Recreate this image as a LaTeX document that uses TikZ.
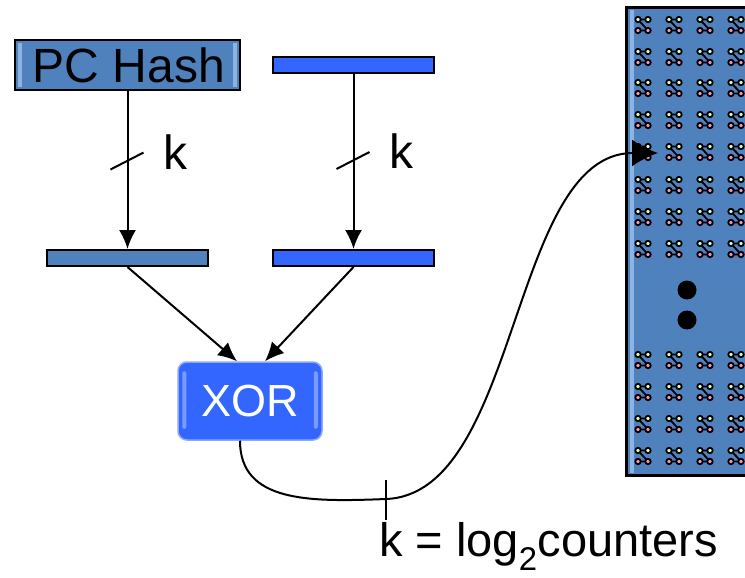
\documentclass[tikz,border=0pt]{standalone}
\usepackage{fontspec}
\setmainfont{Liberation Sans}
\usetikzlibrary{arrows.meta,positioning}

\definecolor{hashblue}{HTML}{4F81BD}
\definecolor{hashlight}{HTML}{8DB3E2}
\definecolor{barblue}{HTML}{3366FF}
\definecolor{xoredge}{HTML}{8AA8FF}
\definecolor{greenbit}{HTML}{CCFFCC}
\definecolor{pinkbit}{HTML}{FF8FC0}

\tikzset{
  bigtext/.style={font=\fontsize{48}{52}\selectfont},
  hashbox/.style={draw, line width=2pt, fill=hashblue, minimum width=225pt,
    minimum height=50pt, inner sep=0pt, bigtext},
  bar/.style={draw, line width=2pt, minimum width=161pt, minimum height=16pt, inner sep=0pt},
  xorbox/.style={draw=xoredge, line width=1.5pt, fill=barblue, rounded corners=9pt,
    minimum width=144pt, minimum height=78pt, text=white, font=\fontsize{45}{49}\selectfont},
  wire/.style={line width=2pt},
  bit/.style={line width=1.8pt},
}

\begin{document}
\begin{tikzpicture}[x=1pt,y=-1pt,>={Latex[length=19pt,width=17pt]}]
   \useasboundingbox (0,0) rectangle (745,578);
   %index sources
   \node[hashbox] (hash) at (127.5,65) {};
   \fill[hashlight] (18,43) rectangle (22,87);
   \fill[hashlight] (233,43) rectangle (237,87);
   \node[hashbox,draw=none,fill=none] (hashtext) at (129,65) {PC Hash};
   \node[bar,fill=barblue] (hist) at (353.5,65.5) {};
   \node[bar,fill=hashblue] (lbar) at (127.5,258) {};
   \node[bar,fill=barblue] (rbar) at (353.5,258) {};
   %xor
   \node[xorbox] (xor) at (250,401) {};
   \fill[white,opacity=.35,rounded corners=2pt] ([shift={(5,10)}]xor.north west) rectangle ([shift={(9,-12)}]xor.south west);
   \fill[white,opacity=.35,rounded corners=2pt] ([shift={(-9,10)}]xor.north east) rectangle ([shift={(-5,-12)}]xor.south east);
   \node[xorbox,fill=none,draw=none] (xortext) at (xor) {XOR};
   %counter table
   \begin{scope}
     \clip (0,0) rectangle (745,578);
     \draw[line width=3pt,fill=hashblue] (626,8) rectangle (770,475);
     \fill[hashlight] (629.5,10) rectangle (633.5,473);
     \foreach \y in {25,57,88,120,152,185,217,249,360,392,424,456}
       \foreach \x in {643,674,705,736} {
         \draw[bit] (\x-5,\y-5.5) -- (\x+5,\y-5.5) (\x-5,\y-5.5) -- (\x+5,\y+5.5)
           (\x-5,\y+5.5) -- (\x+5,\y+5.5);
         \filldraw[bit,fill=greenbit] (\x-5,\y-5.5) circle (2.7pt) (\x+5,\y-5.5) circle (2.7pt);
         \filldraw[bit,fill=pinkbit] (\x-5,\y+5.5) circle (2.7pt) (\x+5,\y+5.5) circle (2.7pt);
       }
     \fill (687,290) circle (9.5pt);
     \fill (687,320) circle (9.5pt);
   \end{scope}
   \coordinate (slot) at (658,153);
   %k bit wires
   \draw[->,wire] (hash) -- coordinate[pos=0.44] (cutl) (lbar);
   \draw[->,wire] (hist) -- coordinate[pos=0.49] (cutr) (rbar);
   \draw[wire] ([shift={(-17,9)}]cutl) -- ([shift={(16,-8)}]cutl);
   \draw[wire] ([shift={(-17,9)}]cutr) -- ([shift={(16,-8)}]cutr);
   \node[bigtext,anchor=base west,inner sep=0pt] (kl) at ([shift={(36,9)}]cutl) {k};
   \node[bigtext,anchor=base west,inner sep=0pt] (kr) at ([shift={(36,8)}]cutr) {k};
   \draw[->,wire] (lbar.south) -- ([xshift=-13pt]xor.north);
   \draw[->,wire] (rbar.south) -- ([xshift=15pt]xor.north);
   %index to table
   \coordinate (cutb) at (386,499);
   \draw[-{Latex[length=26pt,width=27pt]},wire] ([xshift=-10pt]xor.south)
     .. controls +(0,62) and (310,502) .. (cutb)
     .. controls (520,494) and (510,153) .. (slot);
   \draw[wire] ([yshift=19pt]cutb) -- ([yshift=-21pt]cutb);
   \node[font=\fontsize{47}{50}\selectfont,anchor=base west,inner sep=0pt] (eq) at (379,556) {k = log\textsubscript{2}counters};
\end{tikzpicture}
\end{document}
